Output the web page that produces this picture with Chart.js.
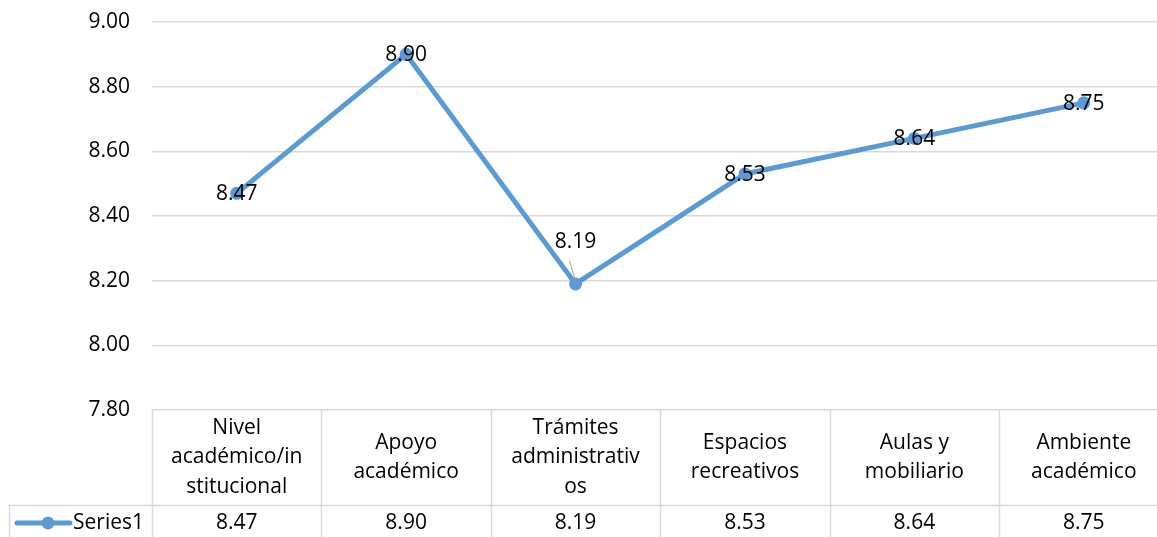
<!DOCTYPE html>
<html>
<head>
<meta charset="utf-8">
<script src="https://cdn.jsdelivr.net/npm/chart.js@4/dist/chart.umd.min.js"></script>
<style>
  html, body { margin: 0; padding: 0; background: #ffffff; overflow: hidden; width: 1157px; height: 537px; }
  canvas { display: block; }
</style>
</head>
<body>
<canvas id="c" width="1175" height="537"></canvas>
<script>
const categories = [
  ["Nivel", "académico/in", "stitucional"],
  ["Apoyo", "académico"],
  ["Trámites", "administrativ", "os"],
  ["Espacios", "recreativos"],
  ["Aulas y", "mobiliario"],
  ["Ambiente", "académico"]
];
const seriesName = "Series1";
const seriesValues = [8.47, 8.90, 8.19, 8.53, 8.64, 8.75];
const yTicks = [7.80, 8.00, 8.20, 8.40, 8.60, 8.80, 9.00];

const FONT = "'Open Sans', 'Liberation Sans', sans-serif";
const FSIZE = 21;
const LINE_COLOR = "#5B9BD5";
const GRID_COLOR = "#D9D9D9";

const tablePlugin = {
  id: "dataTable",
  afterDraw(chart) {
    const ctx = chart.ctx;
    const area = chart.chartArea;
    const xs = chart.scales.x;
    const n = categories.length;
    const colW = (area.right - area.left) / n;
    const top = area.bottom;
    const headerBottom = top + 95;
    const rowBottom = headerBottom + 34;
    const legendLeft = 9;
    ctx.save();
    ctx.strokeStyle = GRID_COLOR;
    ctx.lineWidth = 1.5;
    ctx.beginPath();
    for (let i = 0; i <= n; i++) {
      const x = Math.round(area.left + i * colW) + 0.5;
      ctx.moveTo(x, top);
      ctx.lineTo(x, rowBottom);
    }
    ctx.moveTo(legendLeft + 0.5, headerBottom);
    ctx.lineTo(legendLeft + 0.5, rowBottom);
    ctx.moveTo(legendLeft, Math.round(headerBottom) + 0.5);
    ctx.lineTo(area.right, Math.round(headerBottom) + 0.5);
    ctx.moveTo(legendLeft, Math.round(rowBottom) + 0.5);
    ctx.lineTo(area.right, Math.round(rowBottom) + 0.5);
    ctx.stroke();

    ctx.fillStyle = "#000000";
    ctx.font = FSIZE + "px " + FONT;
    ctx.textAlign = "center";
    ctx.textBaseline = "middle";
    const lh = 29.5;
    const headerMid = (top + headerBottom) / 2;
    categories.forEach((lines, i) => {
      const cx = xs.getPixelForValue(i);
      const startY = headerMid - (lines.length - 1) * lh / 2;
      lines.forEach((t, j) => ctx.fillText(t, cx, startY + j * lh));
    });
    const rowMid = (headerBottom + rowBottom) / 2 + 1;
    seriesValues.forEach((v, i) => {
      ctx.fillText(v.toFixed(2), xs.getPixelForValue(i), rowMid);
    });
    // legend key
    ctx.strokeStyle = LINE_COLOR;
    ctx.lineWidth = 5;
    ctx.lineCap = "round";
    ctx.beginPath();
    ctx.moveTo(17, rowMid);
    ctx.lineTo(70, rowMid);
    ctx.stroke();
    ctx.fillStyle = LINE_COLOR;
    ctx.beginPath();
    ctx.arc(48, rowMid, 6.5, 0, Math.PI * 2);
    ctx.fill();
    ctx.fillStyle = "#000000";
    ctx.textAlign = "left";
    ctx.fillText(seriesName, 73, rowMid);
    ctx.restore();
  }
};

const labelPlugin = {
  id: "pointLabels",
  afterDatasetsDraw(chart) {
    const ctx = chart.ctx;
    const meta = chart.getDatasetMeta(0);
    ctx.save();
    ctx.font = FSIZE + "px " + FONT;
    ctx.textAlign = "center";
    ctx.textBaseline = "middle";
    meta.data.forEach((pt, i) => {
      const prev = i > 0 ? seriesValues[i - 1] : null;
      const next = i < seriesValues.length - 1 ? seriesValues[i + 1] : null;
      const isValley = prev !== null && next !== null && seriesValues[i] < prev && seriesValues[i] < next;
      if (isValley) {
        const ly = pt.y - 42;
        ctx.strokeStyle = "#A6A6A6";
        ctx.lineWidth = 1;
        ctx.beginPath();
        ctx.moveTo(pt.x - 6, ly + 19);
        ctx.lineTo(pt.x, pt.y - 3);
        ctx.stroke();
        ctx.fillStyle = "#000000";
        ctx.fillText(seriesValues[i].toFixed(2), pt.x, ly);
      } else {
        ctx.fillStyle = "#000000";
        ctx.fillText(seriesValues[i].toFixed(2), pt.x, pt.y + 1);
      }
    });
    ctx.restore();
  }
};

new Chart(document.getElementById("c"), {
  type: "line",
  data: {
    labels: categories,
    datasets: [{
      label: seriesName,
      data: seriesValues,
      borderColor: LINE_COLOR,
      backgroundColor: LINE_COLOR,
      borderWidth: 5,
      pointRadius: 6.5,
      pointHoverRadius: 6.5,
      pointBackgroundColor: LINE_COLOR,
      pointBorderWidth: 0,
      tension: 0,
      fill: false
    }]
  },
  options: {
    responsive: false,
    animation: false,
    events: [],
    layout: { padding: { top: 22, right: 3, bottom: 127, left: 0 } },
    plugins: { legend: { display: false }, tooltip: { enabled: false } },
    scales: {
      x: {
        display: false,
        offset: true
      },
      y: {
        min: 7.8,
        max: 9.0,
        afterBuildTicks(scale) { scale.ticks = yTicks.map(v => ({ value: v })); },
        afterFit(scale) { scale.width = 152; scale.paddingTop = 0; scale.paddingBottom = 0; },
        border: { display: false },
        grid: { color: GRID_COLOR, lineWidth: 1.5, drawTicks: false },
        ticks: {
          padding: 22,
          color: "#000000",
          font: { family: FONT, size: FSIZE },
          callback: v => Number(v).toFixed(2)
        }
      }
    }
  },
  plugins: [tablePlugin, labelPlugin]
});
</script>
</body>
</html>
